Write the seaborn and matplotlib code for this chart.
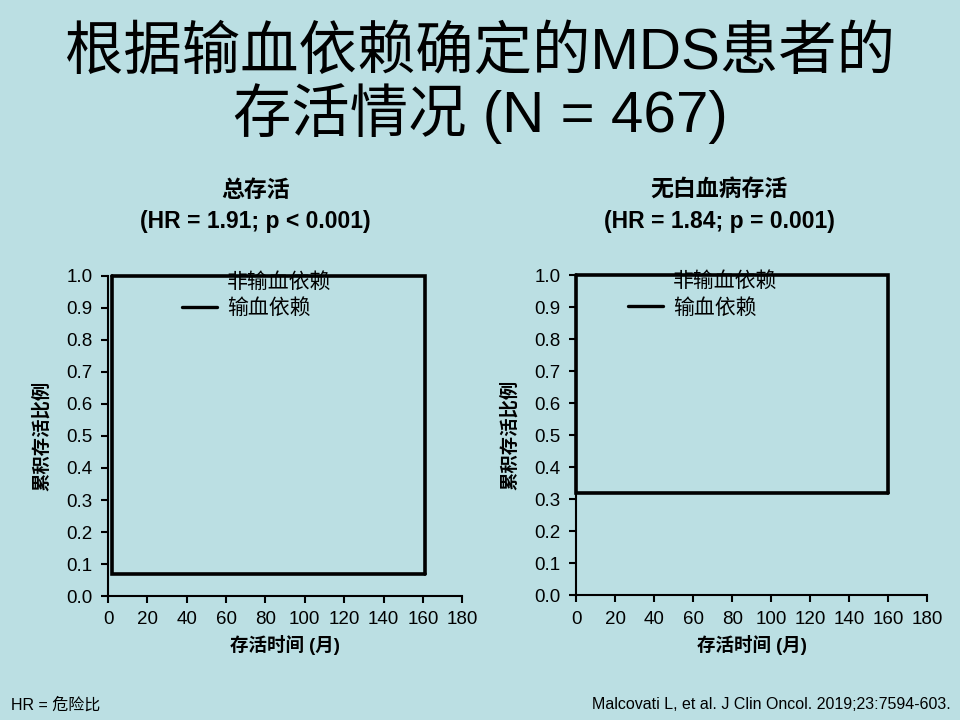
import matplotlib
matplotlib.use("Agg")
import matplotlib.pyplot as plt
import seaborn as sns
import pandas as pd
from matplotlib.lines import Line2D

sns.set_theme(style="white")
plt.rcParams['font.family'] = ['Liberation Sans', 'Noto Sans CJK SC', 'DejaVu Sans']
plt.rcParams['text.color'] = 'black'
plt.rcParams['axes.labelcolor'] = 'black'

BG = "#BBDFE3"

# ---- data ----
groups = ["非输血依赖", "输血依赖"]
# overall survival (left panel)
os_time_ntd = [2, 161, 161]
os_surv_ntd = [1.0, 1.0, 0.07]
os_time_td = [2, 2, 161]
os_surv_td = [1.0, 0.07, 0.07]
# leukemia-free survival (right panel)
lfs_time_ntd = [0, 160, 160]
lfs_surv_ntd = [1.0, 1.0, 0.32]
lfs_time_td = [0, 0, 160]
lfs_surv_td = [1.0, 0.32, 0.32]

x_ticks = [0, 20, 40, 60, 80, 100, 120, 140, 160, 180]
y_ticks = [0.0, 0.1, 0.2, 0.3, 0.4, 0.5, 0.6, 0.7, 0.8, 0.9, 1.0]

panel_titles = ["总存活\n(HR = 1.91; p < 0.001)", "无白血病存活\n(HR = 1.84; p = 0.001)"]
x_label = "存活时间 (月)"
y_label = "累积存活比例"


def make_df(t1, s1, t2, s2):
    rows = []
    for i, (t, s) in enumerate(zip(t1, s1)):
        rows.append((groups[0], i, t, s))
    for i, (t, s) in enumerate(zip(t2, s2)):
        rows.append((groups[1], i, t, s))
    return pd.DataFrame(rows, columns=["group", "order", "time", "surv"])


fig = plt.figure(figsize=(9.6, 7.2), dpi=100, facecolor=BG)

fig.text(0.5, 0.925, "根据输血依赖确定的MDS患者的", ha="center", va="center",
         fontsize=42, color="black")
fig.text(0.5, 0.842, "存活情况 (N = 467)", ha="center", va="center",
         fontsize=42, color="black")

panels = [
    (make_df(os_time_ntd, os_surv_ntd, os_time_td, os_surv_td),
     [0.1125, 0.172, 0.369, 0.445], 0.266, 0.209),
    (make_df(lfs_time_ntd, lfs_surv_ntd, lfs_time_td, lfs_surv_td),
     [0.600, 0.173, 0.366, 0.445], 0.749, 0.148),
]

for k, (df, rect, tx, lx) in enumerate(panels):
    ax = fig.add_axes(rect)
    ax.set_facecolor(BG)
    sns.lineplot(data=df, x="time", y="surv", hue="group", units="group",
                 estimator=None, sort=False, palette=["black", "black"],
                 linewidth=2.6, ax=ax, legend=False)
    for ln in ax.lines:
        ln.set_clip_on(False)
        ln.set_solid_joinstyle("miter")
    ax.set_xlim(0, 180)
    ax.set_ylim(0, 1.0)
    ax.set_xticks(x_ticks)
    ax.set_yticks(y_ticks)
    ax.set_xticklabels([str(v) for v in x_ticks], fontsize=13.5)
    ax.set_yticklabels([f"{v:.1f}" for v in y_ticks], fontsize=13.5)
    for s in ["top", "right"]:
        ax.spines[s].set_visible(False)
    for s in ["left", "bottom"]:
        ax.spines[s].set_color("black")
        ax.spines[s].set_linewidth(1.5)
    ax.tick_params(axis="both", which="both", direction="out", length=5, width=1.5,
                   color="black", labelcolor="black", pad=6, left=True, bottom=True)
    ax.set_xlabel(x_label, fontsize=13.3, fontweight="bold", labelpad=5, color="black")
    ax.set_ylabel(y_label, fontsize=13.2, fontweight="bold", labelpad=11, color="black")
    fig.text(tx, 0.714, panel_titles[k], ha="center", va="center",
             fontsize=16.5, fontweight="bold", linespacing=1.45, color="black")
    handles = [Line2D([], [], color="none", lw=2.4),
               Line2D([], [], color="black", lw=2.4)]
    ax.legend(handles, groups, loc="upper left", bbox_to_anchor=(lx, 1.015),
              frameon=False, handlelength=1.7, handletextpad=0.45,
              labelspacing=0.2, borderpad=0, borderaxespad=0,
              labelcolor="black",
              prop={"family": ["Noto Sans CJK SC"], "size": 15})

fig.text(0.011, 0.021, "HR = 危险比", ha="left", va="center", fontsize=11.5)
fig.text(0.99, 0.021, "Malcovati L, et al. J Clin Oncol. 2019;23:7594-603.",
         ha="right", va="center", fontsize=11.5)

fig.savefig("out.png", dpi=100, facecolor=BG)
